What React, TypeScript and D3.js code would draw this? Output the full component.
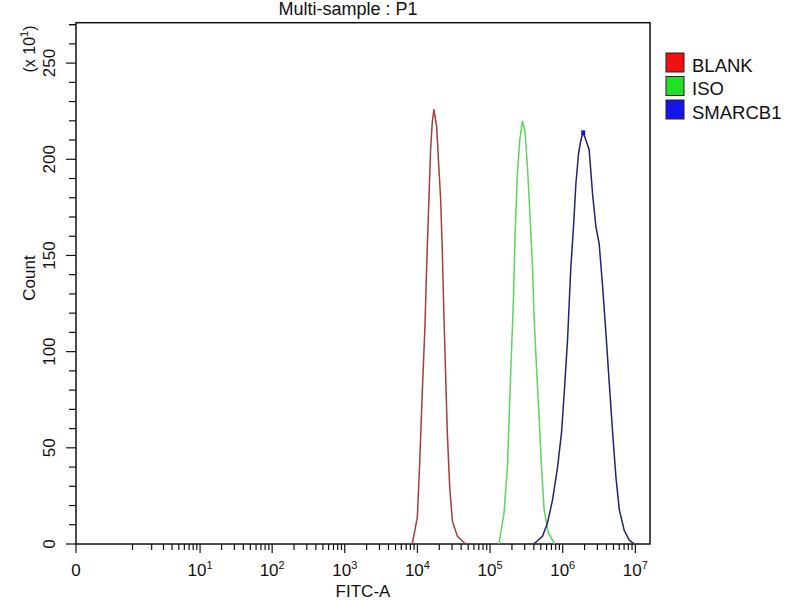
import React from 'react';
import * as d3 from 'd3';

const W = 800;
const H = 600;

// FITC-A intensity vs count (x10)
const blankX = [8500, 9980, 10700, 11700, 12700, 13400, 14400, 15200, 16000, 16900, 18400, 19400, 20900, 22000, 23200, 24500, 25800, 27800, 30300, 35500, 46100];
const blankY = [0, 14, 40, 80, 113, 144, 179, 205, 219, 226, 217, 201, 179, 153, 118, 87, 58, 30, 12, 4, 0];

const isoX = [132800, 155600, 173400, 186600, 199000, 209900, 220800, 238300, 256400, 279300, 303400, 327300, 355600, 383700, 403600, 435500, 473200, 510500, 554600, 629500, 778000];
const isoY = [0, 16, 40, 75, 104, 127, 161, 193, 210, 220, 214, 196, 170, 144, 118, 92, 66, 40, 18, 6, 0];

const smarcX = [399900, 527200, 618000, 724400, 849200, 963700, 1047000, 1165000, 1294000, 1409000, 1517000, 1652000, 1778000, 1913000, 2083000, 2312000, 2576000, 2863000, 3177000, 3540000, 3927000, 4365000, 4864000, 5395000, 5998000, 7031000, 8241000, 9660000];
const smarcY = [0, 4, 11, 23, 40, 58, 78, 106, 144, 165, 187, 203, 210, 214, 210, 205, 182, 165, 156, 134, 110, 84, 58, 35, 18, 7, 2, 0];

const seriesNames = ['BLANK', 'ISO', 'SMARCB1'];
const lineColors = ['#a33f3c', '#5fd35f', '#23236e'];
const swatchColors = ['#f01010', '#22e022', '#1414f0'];

const yMajor = [0, 50, 100, 150, 200, 250];
const xDecades = [1, 2, 3, 4, 5, 6, 7];

const FONT = '"Liberation Sans", Arial, sans-serif';

export default function App() {
  const left = 76, right = 650, top = 22.7, bottom = 544;

  const x = d3.scaleSymlog().constant(0.2).domain([0, 1.59e7]).range([left, right]);
  const y = d3.scaleLinear().domain([0, 271]).range([bottom, top]);

  const line = d3
    .line<[number, number]>()
    .x((d) => x(d[0]))
    .y((d) => y(d[1]));

  const series = [
    d3.zip(blankX, blankY) as [number, number][],
    d3.zip(isoX, isoY) as [number, number][],
    d3.zip(smarcX, smarcY) as [number, number][],
  ];

  const yMinor = d3.range(0, 271, 10).filter((v) => v % 50 !== 0);
  const xMinor: number[] = [];
  for (let e = 0; e < 7; e++) {
    for (let m = 1; m < 10; m++) {
      if (!(m === 1 && e > 0)) xMinor.push(m * Math.pow(10, e));
    }
  }

  return (
    <svg width={W} height={H} style={{ position: 'absolute', left: 0, top: 0, background: '#fff' }} fontFamily={FONT}>
      <rect x={0} y={0} width={W} height={H} fill="#fff" />
      <text x={348} y={15} fontSize={18} textAnchor="middle" fill="#111">Multi-sample : P1</text>

      {/* plot frame */}
      <rect x={left} y={top} width={right - left} height={bottom - top} fill="none" stroke="#111" strokeWidth={1.5} />

      {/* histograms */}
      {series.map((s, i) => (
        <path key={seriesNames[i]} d={line(s) || ''} fill="none" stroke={lineColors[i]} strokeWidth={1.5} />
      ))}
      <rect x={x(1913000) - 2} y={y(214) - 2} width={4} height={5} fill="#1414f0" />

      {/* y axis ticks */}
      {yMinor.map((v) => (
        <line key={'ym' + v} x1={left - 7} x2={left} y1={y(v)} y2={y(v)} stroke="#111" strokeWidth={1.2} />
      ))}
      <line x1={left - 7} x2={left} y1={y(270)} y2={y(270)} stroke="#111" strokeWidth={1.2} />
      {yMajor.map((v) => (
        <g key={'yM' + v}>
          <line x1={left - 10} x2={left} y1={y(v)} y2={y(v)} stroke="#111" strokeWidth={1.2} />
          <text transform={`translate(55,${y(v)}) rotate(-90)`} fontSize={17} textAnchor="middle" fill="#111">{v}</text>
        </g>
      ))}
      <text transform="translate(35,278) rotate(-90)" fontSize={17} textAnchor="middle" fill="#111">Count</text>
      <text transform="translate(35,49) rotate(-90)" fontSize={16} textAnchor="middle" fill="#111">
        (x 10<tspan fontSize={11} dy={-7}>1</tspan><tspan dy={7}>)</tspan>
      </text>

      {/* x axis ticks */}
      {xMinor.map((v) => (
        <line key={'xm' + v} x1={x(v)} x2={x(v)} y1={bottom} y2={bottom + 6} stroke="#111" strokeWidth={1.2} />
      ))}
      <line x1={x(0)} x2={x(0)} y1={bottom} y2={bottom + 9} stroke="#111" strokeWidth={1.2} />
      <text x={x(0)} y={576} fontSize={17} textAnchor="middle" fill="#111">0</text>
      {xDecades.map((e) => (
        <g key={'xd' + e}>
          <line x1={x(Math.pow(10, e))} x2={x(Math.pow(10, e))} y1={bottom} y2={bottom + 9} stroke="#111" strokeWidth={1.2} />
          <text x={x(Math.pow(10, e))} y={576} fontSize={17} textAnchor="middle" fill="#111">
            10<tspan fontSize={11} dy={-7}>{e}</tspan>
          </text>
        </g>
      ))}
      <text x={363} y={597} fontSize={17} textAnchor="middle" fill="#111">FITC-A</text>

      {/* legend */}
      {seriesNames.map((n, i) => (
        <g key={'lg' + n} transform={`translate(666,${53 + i * 23.5})`}>
          <rect x={0} y={0} width={18} height={19} fill={swatchColors[i]} stroke="#222" strokeWidth={1} />
          <text x={26} y={18.5} fontSize={18.5} fill="#111">{n}</text>
        </g>
      ))}
    </svg>
  );
}
